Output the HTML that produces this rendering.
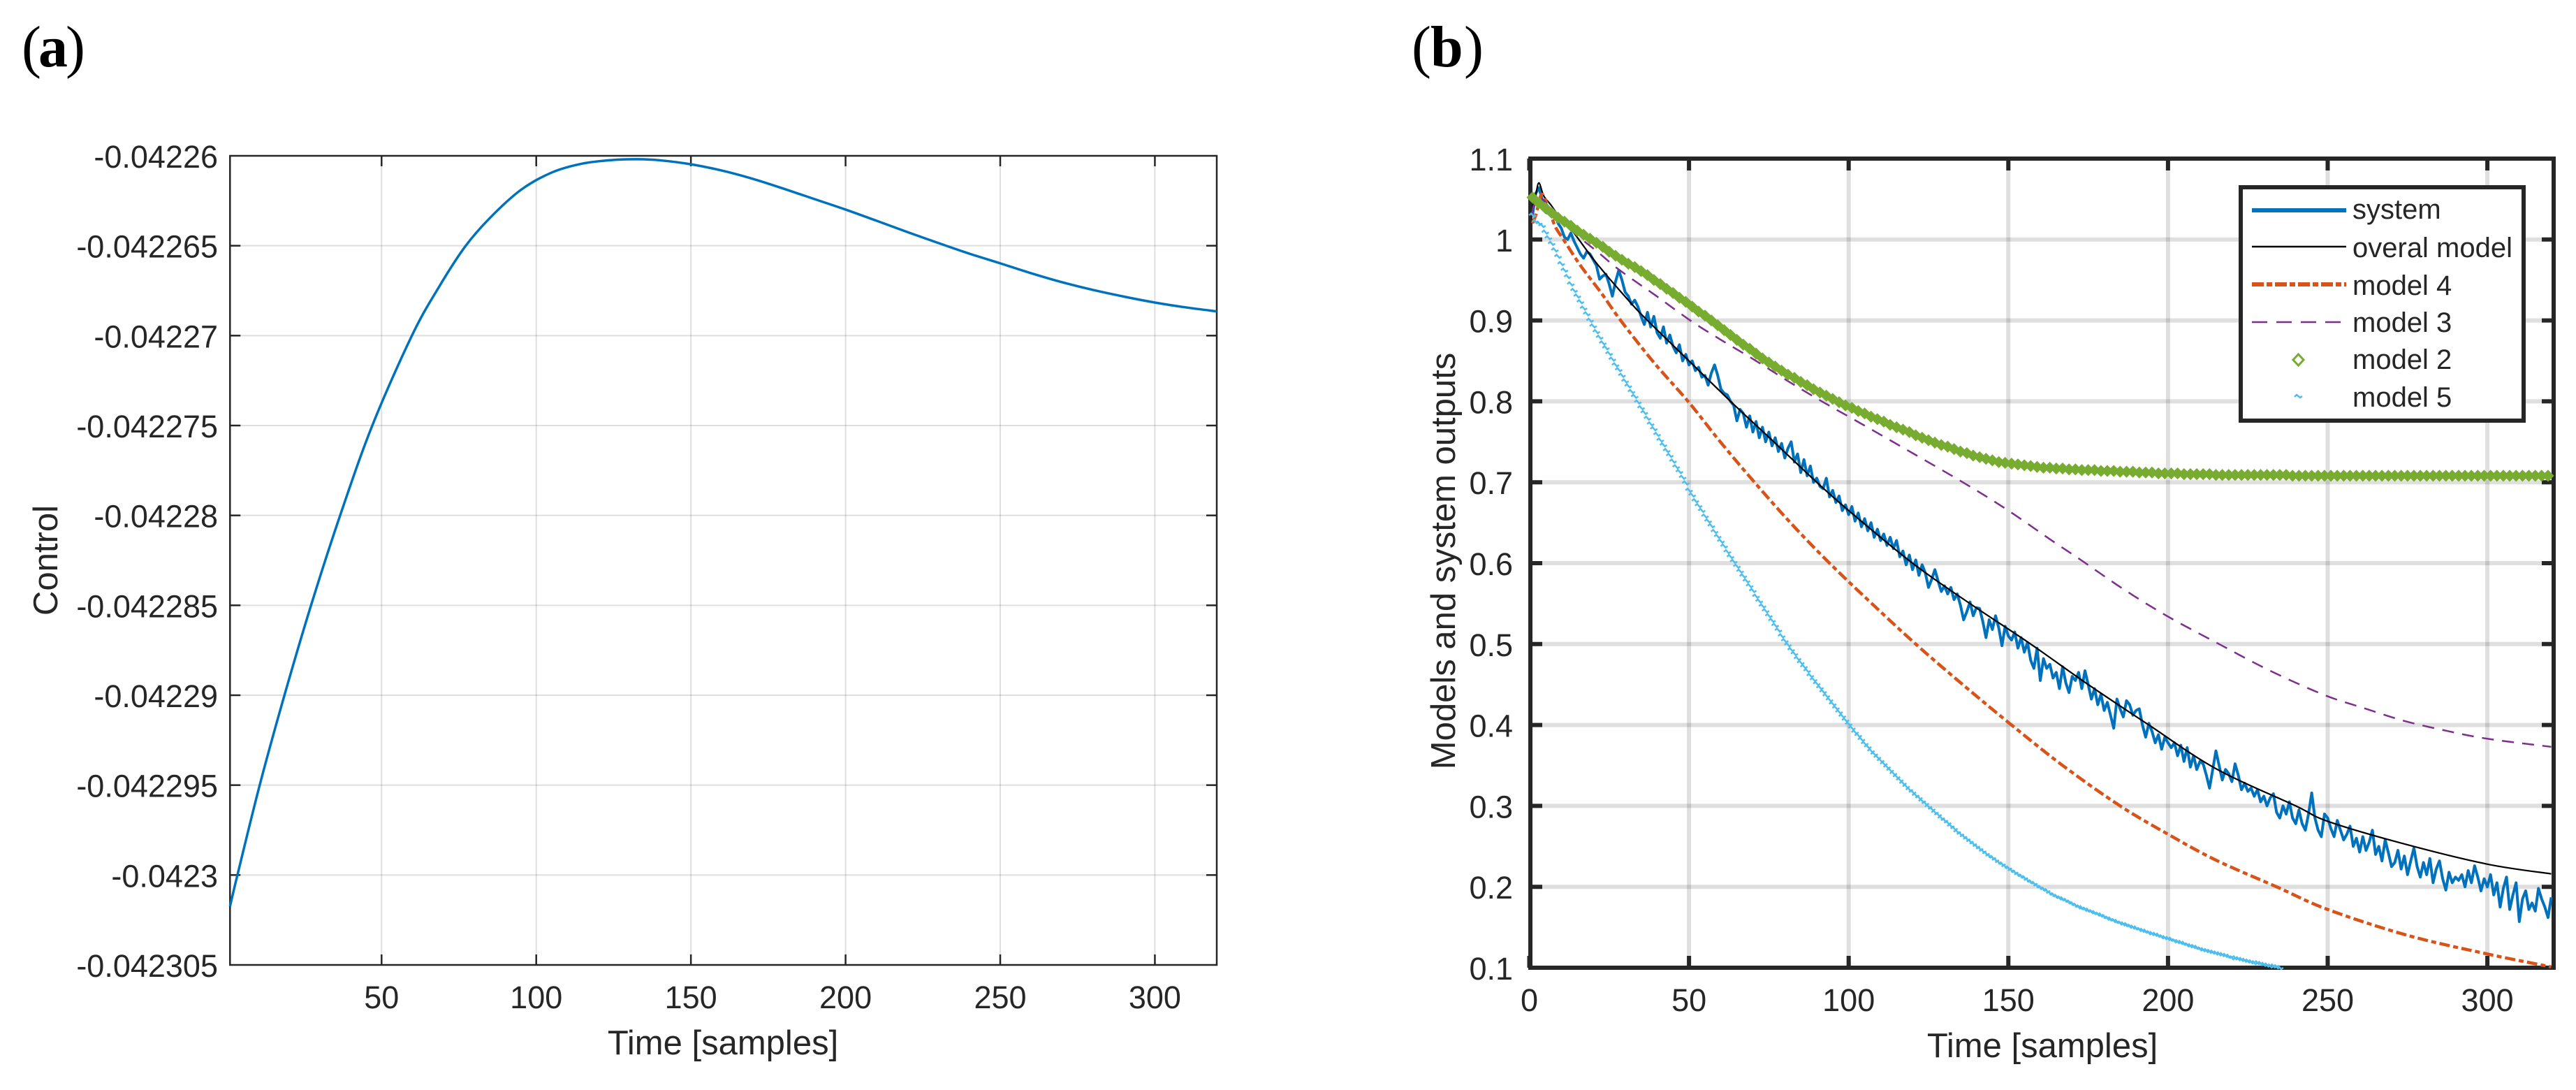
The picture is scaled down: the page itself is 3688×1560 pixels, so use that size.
<!DOCTYPE html>
<html lang="en">
<head>
<meta charset="utf-8">
<title>Control signal and model outputs</title>
<style>
html,body{margin:0;padding:0;background:#fff;}
svg{display:block;}
text{font-family:"Liberation Sans",sans-serif;fill:#262626;}
.pl{font-family:"Liberation Serif",serif;fill:#000;}
</style>
</head>
<body>
<svg id="figure" xmlns="http://www.w3.org/2000/svg" width="3688" height="1560" viewBox="0 0 3688 1560">
<defs>
<clipPath id="clip-a"><rect x="326" y="220" width="1416" height="1164"/></clipPath>
<clipPath id="clip-b"><rect x="2182" y="220" width="1475" height="1168"/></clipPath>
</defs>
<rect width="3688" height="1560" fill="#fff"/>
<text class="pl" y="95" font-size="84"><tspan x="31">(</tspan><tspan x="55" font-weight="bold">a</tspan><tspan x="94">)</tspan></text>
<text class="pl" y="95" font-size="84"><tspan x="2021">(</tspan><tspan x="2048" font-weight="bold">b</tspan><tspan x="2096">)</tspan></text>
<g id="panel-a"></g>
<g id="panel-b"></g>
<text x="1035" y="1509" font-size="49" text-anchor="middle">Time [samples]</text>
<text transform="translate(82,802) rotate(-90)" font-size="49" text-anchor="middle">Control</text>
<text x="2924" y="1513" font-size="49" text-anchor="middle">Time [samples]</text>
<text transform="translate(2083,803) rotate(-90)" font-size="49" text-anchor="middle">Models and system outputs</text>
<g>
<rect x="3208" y="268" width="405" height="334" fill="#fff" stroke="#262626" stroke-width="6"/>
<line x1="3224" x2="3359" y1="301" y2="301" stroke="#0072BD" stroke-width="6"/>
<line x1="3224" x2="3359" y1="353" y2="353" stroke="#000" stroke-width="2.5"/>
<line x1="3224" x2="3359" y1="407" y2="407" stroke="#D95319" stroke-width="6" stroke-dasharray="17 4 8 4"/>
<line x1="3224" x2="3359" y1="461" y2="461" stroke="#7E2F8E" stroke-width="2.5" stroke-dasharray="22 13"/>
<path d="M3290.5,507 L3298,515 L3290.5,523 L3283,515 Z" fill="none" stroke="#77AC30" stroke-width="3"/>
<path d="M3285,568 L3288,565 L3293,569 L3296,567" fill="none" stroke="#4DBEEE" stroke-width="2.5"/>
<text x="3368" y="313" font-size="40" fill="#111">system</text>
<text x="3368" y="368" font-size="40" fill="#111">overal model</text>
<text x="3368" y="422" font-size="40" fill="#111">model 4</text>
<text x="3368" y="475" font-size="40" fill="#111">model 3</text>
<text x="3368" y="528" font-size="40" fill="#111">model 2</text>
<text x="3368" y="582" font-size="40" fill="#111">model 5</text>
</g>
</svg>
<script>
// ---- Panel (a) data ----
const aXTicks = [50, 100, 150, 200, 250, 300];
const aYTicks = [-0.04226, -0.042265, -0.04227, -0.042275, -0.04228, -0.042285, -0.04229, -0.042295, -0.0423, -0.042305];
const aYTickLabels = ['-0.04226', '-0.042265', '-0.04227', '-0.042275', '-0.04228', '-0.042285', '-0.04229', '-0.042295', '-0.0423', '-0.042305'];
const controlSamples = [1, 3.4, 10.6, 18.6, 27.2, 36.6, 47, 59.8, 68.5, 77, 85, 95, 105, 115, 125, 133, 140, 150, 160, 170, 180, 190, 200, 210, 220, 232, 240, 250, 260, 270, 280, 290, 300, 310, 320];
const controlValues = [-0.04230174, -0.0423, -0.042295, -0.04229, -0.042285, -0.04228, -0.042275, -0.04227, -0.04226731, -0.04226505, -0.04226346, -0.0422619, -0.04226093, -0.04226043, -0.04226023, -0.04226019, -0.04226025, -0.04226047, -0.04226082, -0.04226128, -0.04226183, -0.04226241, -0.04226299, -0.04226361, -0.04226424, -0.04226497, -0.04226544, -0.04226598, -0.04226653, -0.04226703, -0.04226746, -0.04226783, -0.04226816, -0.04226843, -0.04226865];

// ---- Panel (b) data ----
const bXTicks = [0, 50, 100, 150, 200, 250, 300];
const bYTicks = [1.1, 1, 0.9, 0.8, 0.7, 0.6, 0.5, 0.4, 0.3, 0.2, 0.1];
const bYTickLabels = ['1.1', '1', '0.9', '0.8', '0.7', '0.6', '0.5', '0.4', '0.3', '0.2', '0.1'];
const systemValues = [
1.030,1.057,1.064,1.050,1.034,1.032,1.030,1.030,1.020,1.014,
1.003,1.000,1.008,.998,.990,.982,.977,.985,.982,.975,
.968,.951,.955,.957,.945,.930,.948,.962,.950,.935,
.930,.920,.925,.917,.905,.895,.910,.892,.905,.885,
.878,.892,.872,.882,.868,.860,.870,.850,.858,.845,
.850,.838,.842,.830,.832,.820,.835,.845,.832,.815,
.810,.808,.800,.795,.776,.790,.785,.768,.782,.762,
.775,.755,.768,.750,.762,.745,.755,.738,.748,.730,
.742,.750,.725,.735,.712,.728,.708,.720,.700,.705,
.695,.692,.705,.682,.690,.675,.683,.665,.672,.660,
.670,.652,.662,.645,.655,.640,.650,.632,.642,.628,
.636,.622,.632,.618,.628,.608,.615,.598,.610,.592,
.604,.585,.598,.588,.570,.580,.592,.578,.565,.572,
.562,.570,.555,.562,.548,.530,.540,.552,.535,.545,
.544,.528,.508,.530,.518,.535,.520,.498,.522,.510,
.505,.515,.495,.508,.490,.502,.480,.470,.495,.455,
.482,.470,.475,.458,.465,.445,.472,.452,.440,.460,
.455,.465,.445,.467,.450,.432,.445,.425,.438,.418,
.428,.412,.396,.432,.420,.410,.430,.425,.412,.418,
.420,.400,.385,.402,.392,.378,.388,.370,.385,.378,
.372,.378,.362,.375,.355,.372,.348,.362,.345,.355,
.352,.338,.322,.345,.368,.350,.332,.345,.340,.330,
.352,.338,.320,.328,.318,.322,.312,.320,.305,.312,
.300,.310,.315,.292,.285,.300,.290,.305,.285,.278,
.295,.278,.270,.290,.316,.285,.270,.262,.290,.285,
.272,.262,.282,.270,.258,.265,.275,.250,.260,.243,
.262,.245,.255,.270,.240,.250,.232,.258,.242,.225,
.230,.245,.222,.238,.215,.232,.248,.225,.212,.230,
.215,.235,.205,.222,.232,.210,.196,.218,.205,.212,
.208,.215,.200,.220,.205,.226,.212,.195,.210,.200,
.215,.190,.205,.175,.198,.212,.172,.190,.205,.157,
.185,.195,.172,.180,.170,.198,.185,.175,.162,.187];
const overallSamples = [1, 2, 3, 4.5, 6.7, 9.1, 13.6, 21, 31, 37, 50, 63, 76, 90, 100, 120, 138, 157, 175, 194, 215, 240, 250, 274, 300, 320];
const overallValues = [1.04, 1.055, 1.07, 1.054, 1.043, 1.03, 1.01, .971, .925, .9, .85, .8, .752, .7, .665, .6, .55, .5, .45, .4, .346, .3, .281, .253, .228, .216];
const model4Samples = [1, 2, 3, 4, 6, 8, 10.7, 16, 22.7, 28.6, 39, 49.7, 60, 70.5, 82, 94, 107, 121, 136, 151, 167, 185, 200, 215, 234, 250, 275, 300, 320];
const model4Values = [1.02, 1.03, 1.045, 1.056, 1.04, 1.017, 1, .968, .933, .9, .848, .8, .749, .7, .649, .6, .551, .5, .449, .4, .35, .3, .265, .233, .2, .172, .14, .117, .101];
const model3Samples = [1, 1.5, 4, 6, 9.2, 15, 21.6, 27, 33.3, 39.5, 50.4, 60, 71, 81, 91.6, 105, 120, 136.6, 150, 163.6, 172.7, 186, 200, 216, 232, 249, 262, 274, 287, 300, 320];
const model3Values = [1.03, 1.043, 1.05, 1.041, 1.027, 1.005, .984, .966, .948, .931, .9, .876, .85, .825, .8, .77, .736, .698, .665, .628, .604, .568, .534, .5, .467, .437, .42, .405, .393, .383, .373];
const model2Step = 2;
const model2Values = [
1.052,1.045,1.039,1.033,1.027,1.022,1.017,1.011,1.006,1.001,
.996,.991,.985,.980,.975,.970,.966,.961,.956,.950,
.945,.939,.934,.928,.923,.917,.911,.906,.900,.894,
.888,.882,.876,.870,.865,.859,.853,.848,.843,.838,
.833,.829,.824,.820,.815,.811,.807,.803,.799,.795,
.792,.788,.785,.781,.778,.775,.771,.768,.765,.762,
.758,.755,.752,.749,.746,.744,.741,.738,.736,.733,
.731,.729,.727,.725,.724,.723,.722,.721,.720,.719,
.718,.718,.717,.717,.716,.716,.715,.715,.715,.714,
.714,.714,.713,.713,.713,.712,.712,.712,.711,.711,
.711,.711,.710,.710,.710,.710,.710,.709,.709,.709,
.709,.709,.709,.709,.709,.709,.709,.709,.709,.708,
.708,.708,.708,.708,.708,.708,.708,.708,.708,.708,
.708,.708,.708,.708,.708,.708,.708,.708,.708,.708,
.708,.708,.708,.708,.708,.708,.708,.708,.708,.708,
.708,.708,.708,.708,.708,.708,.708,.708,.708,.708];
const model5Values = [
1.030,1.022,1.020,1.017,1.009,1.002,.995,.987,.979,.970,
.962,.954,.945,.937,.930,.923,.915,.908,.900,.893,
.886,.879,.872,.866,.859,.852,.845,.839,.832,.825,
.819,.812,.806,.799,.792,.786,.779,.772,.766,.759,
.752,.746,.739,.733,.726,.719,.713,.706,.699,.690,
.684,.677,.671,.665,.658,.652,.646,.639,.633,.627,
.621,.614,.608,.602,.596,.590,.584,.578,.572,.566,
.559,.553,.547,.541,.535,.529,.523,.517,.510,.504,
.499,.493,.488,.482,.477,.472,.467,.461,.456,.451,
.446,.441,.436,.431,.426,.421,.416,.411,.406,.401,
.396,.391,.387,.382,.377,.373,.368,.364,.360,.356,
.352,.348,.344,.340,.336,.332,.328,.324,.320,.317,
.313,.310,.306,.303,.299,.296,.292,.289,.285,.282,
.279,.275,.272,.268,.265,.262,.259,.256,.253,.250,
.247,.244,.241,.238,.236,.233,.230,.228,.225,.223,
.220,.218,.215,.213,.211,.208,.206,.204,.201,.199,
.197,.195,.192,.190,.188,.186,.185,.183,.181,.179,
.177,.175,.174,.172,.171,.169,.168,.166,.165,.163,
.161,.160,.158,.157,.155,.154,.153,.151,.150,.149,
.147,.146,.145,.143,.142,.141,.140,.138,.137,.136,
.135,.133,.132,.131,.130,.128,.127,.126,.125,.123,
.122,.121,.120,.119,.118,.117,.116,.115,.114,.112,
.112,.111,.110,.109,.108,.107,.106,.106,.105,.104,
.103,.102,.102,.101,.100];

const SVG_NS = 'http://www.w3.org/2000/svg';
function make(tag, attrs, parent) {
  const el = document.createElementNS(SVG_NS, tag);
  for (const k in attrs) el.setAttribute(k, attrs[k]);
  parent.appendChild(el);
  return el;
}
function smoothPath(px, py) {
  let d = 'M' + px[0].toFixed(2) + ',' + py[0].toFixed(2);
  for (let i = 0; i < px.length - 1; i++) {
    const i0 = Math.max(i - 1, 0), i3 = Math.min(i + 2, px.length - 1);
    const c1x = px[i] + (px[i + 1] - px[i0]) / 6, c1y = py[i] + (py[i + 1] - py[i0]) / 6;
    const c2x = px[i + 1] - (px[i3] - px[i]) / 6, c2y = py[i + 1] - (py[i3] - py[i]) / 6;
    d += 'C' + c1x.toFixed(2) + ',' + c1y.toFixed(2) + ' ' + c2x.toFixed(2) + ',' + c2y.toFixed(2) + ' ' + px[i + 1].toFixed(2) + ',' + py[i + 1].toFixed(2);
  }
  return d;
}

function drawAxes(root, cfg) {
  const L = cfg.left, R = cfg.right, T = cfg.top, B = cfg.bottom;
  cfg.xTicks.forEach(function (v) {
    const x = cfg.xScale(v);
    if (v !== 0) {
      const g = make('line', {x1: x, x2: x, y1: T, y2: B, stroke: '#262626', 'stroke-opacity': .15, 'stroke-width': cfg.grid}, root);
      
      
    }
    const t1 = make('line', {x1: x, x2: x, y1: B, y2: B - cfg.tickLen, stroke: '#262626', 'stroke-width': cfg.tickW}, root);
    
    
    const t2 = make('line', {x1: x, x2: x, y1: T, y2: T + cfg.tickLen, stroke: '#262626', 'stroke-width': cfg.tickW}, root);
    
    
    const lb = make('text', {x: x, y: cfg.xLabelY, 'font-size': 45, 'text-anchor': 'middle'}, root);
    
    
    lb.textContent = String(v);
  });
  cfg.yTicks.forEach(function (v, i) {
    const y = cfg.yScale(v);
    if (i !== 0 && i !== cfg.yTicks.length - 1) {
      const g = make('line', {x1: L, x2: R, y1: y, y2: y, stroke: '#262626', 'stroke-opacity': .15, 'stroke-width': cfg.grid}, root);
      
      
      const t1 = make('line', {x1: L, x2: L + cfg.tickLen, y1: y, y2: y, stroke: '#262626', 'stroke-width': cfg.tickW}, root);
      
      
      const t2 = make('line', {x1: R, x2: R - cfg.tickLen, y1: y, y2: y, stroke: '#262626', 'stroke-width': cfg.tickW}, root);
      
      
    }
    const lb = make('text', {x: cfg.yLabelX, y: y + 17, 'font-size': 45, 'text-anchor': 'end'}, root);
    
    
    lb.textContent = cfg.yLabels[i];
  });
  const frame = make('rect', {x: L, y: T, width: R - L, height: B - T, fill: 'none', stroke: '#262626', 'stroke-width': cfg.frame}, root);
  
  
}

// ---- Panel (a) ----
const panelA = document.getElementById('panel-a');
const aX = function (v) { return 329.3 + (v - 1) * (1742 - 329.3) / 319; };
const aY = function (v) { return 223 + (-0.04226 - v) * (1381 - 223) / 0.000045; };
drawAxes(panelA, {left: 329.3, right: 1742, top: 223, bottom: 1381, xTicks: aXTicks, yTicks: aYTicks, yLabels: aYTickLabels, xScale: aX, yScale: aY, grid: 2, tickLen: 15, tickW: 2.5, frame: 2.5, xLabelY: 1443, yLabelX: 312});
const controlLine = make('path', {d: smoothPath(controlSamples.map(aX), controlValues.map(aY)), fill: 'none', stroke: '#0072BD', 'stroke-width': 3.5, 'clip-path': 'url(#clip-a)'}, panelA);



// ---- Panel (b) ----
const panelB = document.getElementById('panel-b');
const bX = function (v) { return 2189.5 + v * 4.572; };
const bY = function (v) { return 227 + (1.1 - v) * 1158; };
drawAxes(panelB, {left: 2191, right: 3656, top: 227, bottom: 1385, xTicks: bXTicks, yTicks: bYTicks, yLabels: bYTickLabels, xScale: bX, yScale: bY, grid: 6, tickLen: 17, tickW: 6, frame: 6, xLabelY: 1447, yLabelX: 2166});

const seriesB = make('g', {'clip-path': 'url(#clip-b)'}, panelB);



const systemLine = make('polyline', {points: systemValues.map(function (v, i) { return bX(i + 1).toFixed(2) + ',' + bY(v).toFixed(2); }).join(' '), fill: 'none', stroke: '#0072BD', 'stroke-width': 4, 'stroke-linejoin': 'round'}, seriesB);



const overallLine = make('path', {d: smoothPath(overallSamples.map(bX), overallValues.map(bY)), fill: 'none', stroke: '#000', 'stroke-width': 2.2}, seriesB);



const model4Line = make('path', {d: smoothPath(model4Samples.map(bX), model4Values.map(bY)), fill: 'none', stroke: '#D95319', 'stroke-width': 4.5, 'stroke-dasharray': '15 5 7 5'}, seriesB);



const model3Line = make('path', {d: smoothPath(model3Samples.map(bX), model3Values.map(bY)), fill: 'none', stroke: '#7E2F8E', 'stroke-width': 2.5, 'stroke-dasharray': '17 12'}, seriesB);



const model2Group = make('g', {fill: '#77AC30', stroke: '#77AC30', 'stroke-width': 3}, seriesB);


model2Values.forEach(function (v, i) {
  const x = bX(1 + i * model2Step), y = bY(v);
  const m = make('path', {d: 'M' + x.toFixed(1) + ',' + (y - 6.5).toFixed(1) + 'l6.5,6.5l-6.5,6.5l-6.5,-6.5z'}, model2Group);
  
  
});

const model5Group = make('g', {fill: 'none', stroke: '#4DBEEE', 'stroke-width': 2.5}, seriesB);


model5Values.forEach(function (v, i) {
  const x = bX(i + 1), y = bY(v);
  const m = make('path', {d: 'M' + (x - 5).toFixed(1) + ',' + y.toFixed(1) + 'l3,-2.5l4,4.5l3,-2'}, model5Group);
  
  
});
</script>
</body>
</html>
